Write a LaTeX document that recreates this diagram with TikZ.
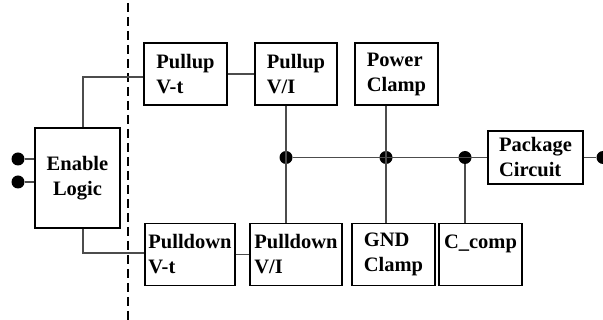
\documentclass[tikz,border=0pt]{standalone}
\usepackage{fontspec}
\setmainfont{Liberation Serif}
\begin{document}
\begin{tikzpicture}[x=1pt,y=-1pt,
  blk/.style={draw=black,line width=1.4pt,inner sep=0pt,align=left,
    minimum height=62pt,font=\bfseries\fontsize{20.5}{25}\selectfont},
  wire/.style={black!70,line width=1.2pt},
  dot/.style={circle,fill=black,inner sep=0pt,minimum size=13pt}]
  \useasboundingbox (0,0) rectangle (603,320);
  \draw[line width=1.4pt,dash pattern=on 9pt off 5pt] (128,3) -- (128,320);
  % boxes
  \node[blk,align=center,minimum width=85pt,minimum height=100pt] (logic) at (77.5,178) {Enable\\Logic};
  \node[blk,minimum width=83pt] (puvt) at (185.5,74) {Pullup\\V-t};
  \node[blk,minimum width=82pt] (puvi) at (296,74) {Pullup\\V/I};
  \node[blk,minimum width=83pt] (pwr) at (396.5,74) {Power\\Clamp};
  \node[blk,minimum width=90pt] (pdvt) at (190,254.5) {Pulldown\\V-t};
  \node[blk,minimum width=92pt] (pdvi) at (296,254.5) {Pulldown\\V/I};
  \node[blk,minimum width=83pt] (gnd) at (393.5,254.5) {GND\\Clamp};
  \node[blk,minimum width=83pt] (ccomp) at (480.5,254.5) {C\_comp\\\mbox{}};
  \node[blk,minimum width=95pt,minimum height=53pt] (pkg) at (535.5,157.5) {Package\\Circuit};
  % dots
  \node[dot] (in1) at (18,159) {};
  \node[dot] (in2) at (18,182) {};
  \node[dot] (j1) at (286,157.5) {};
  \node[dot] (j2) at (386,157.5) {};
  \node[dot] (j3) at (465,157.5) {};
  \node[dot] (out) at (603,157.5) {};
  % wires
  \draw[wire] (in1) -- (in1 -| logic.west);
  \draw[wire] (in2) -- (in2 -| logic.west);
  \draw[wire] ([xshift=5.5pt]logic.north) |- ([yshift=-3pt]puvt.west);
  \draw[wire] ([xshift=5.5pt]logic.south) |- ([yshift=1.5pt]pdvt.west);
  \draw[wire] (puvt.east) -- (puvt.east -| puvi.west);
  \draw[wire] (pdvt.east) -- (pdvt.east -| pdvi.west);
  \draw[wire] (j1 |- puvi.south) -- (j1 |- pdvi.north);
  \draw[wire] (j2 |- pwr.south) -- (j2 |- gnd.north);
  \draw[wire] (j3) -- (j3 |- ccomp.north);
  \draw[wire] (j1) -- (pkg.west);
  \draw[wire] (pkg.east) -- (out);
\end{tikzpicture}
\end{document}
